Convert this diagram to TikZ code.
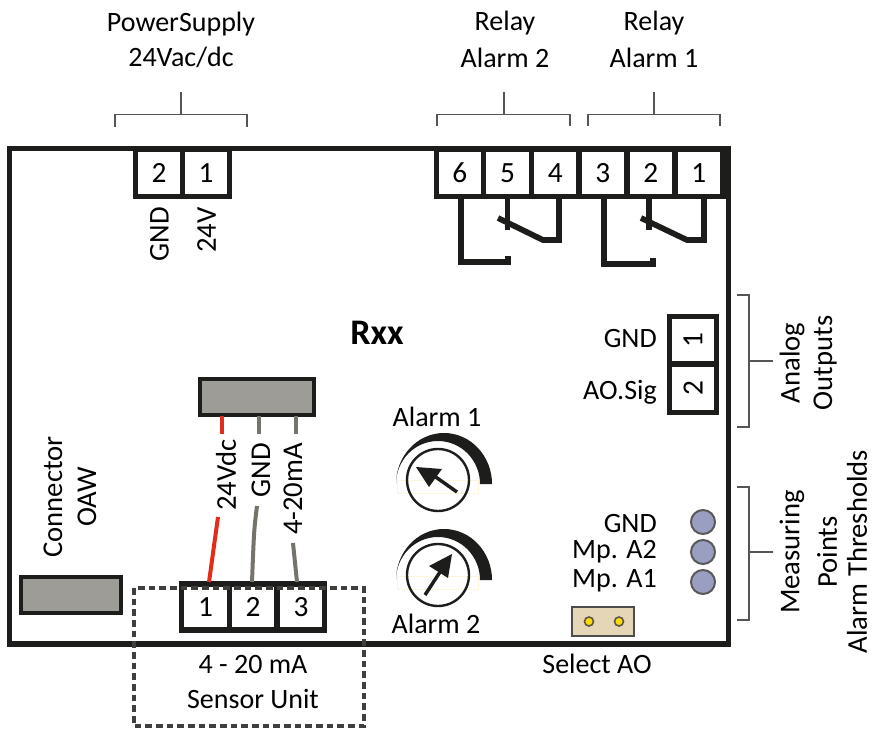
\documentclass[tikz,border=0pt]{standalone}
\usepackage{fontspec}
\setmainfont{Carlito}
\usetikzlibrary{arrows,calc,positioning}

\definecolor{boardcol}{HTML}{1D1D1B}
\definecolor{bracketcol}{HTML}{555555}
\definecolor{boxgrey}{HTML}{9D9C97}
\definecolor{wirered}{HTML}{E32D1C}
\definecolor{wiregrey}{HTML}{76736A}
\definecolor{mpfill}{HTML}{9A9FC2}
\definecolor{jumpertan}{HTML}{E5D6B8}
\definecolor{pinyellow}{HTML}{FFDC00}
\definecolor{faintcream}{HTML}{FBF6DC}

\tikzset{
  lbl/.style={font=\fontsize{21}{24}\selectfont, inner sep=0pt, text=black},
  lblup/.style={lbl, font=\fontsize{21.5}{24}\selectfont, rotate=90},
  termcell/.style={draw=boardcol, fill=white, line width=3.8pt, outer sep=0pt,
    inner sep=0pt, minimum width=35.6pt, minimum height=35.6pt,
    font=\fontsize{22}{24}\selectfont},
  bracketline/.style={draw=bracketcol, line width=1.3pt},
  relayline/.style={draw=boardcol, line width=4.3pt},
  greybox/.style={draw=boardcol, fill=boxgrey, line width=2.6pt},
  wire/.style={line width=3pt},
  mppoint/.style={circle, draw=black!65, fill=mpfill, line width=1.5pt,
    inner sep=0pt, minimum size=18pt}
}

\begin{document}
\begin{tikzpicture}[x=0.75pt,y=-0.75pt]

  \useasboundingbox (0,0) rectangle (874,728);

  % board
  \draw[boardcol, line width=3.9pt] (9.5,148.5) rectangle (728.5,644);

  % top labels and brackets
  \node[lbl] (psu) at (181,24) {PowerSupply};
  \node[lbl] (psuv) at (181,57) {24Vac/dc};
  \node[lbl] (relb) at (505,23) {Relay};
  \node[lbl] (relbn) at (505,58) {Alarm 2};
  \node[lbl] (rela) at (654,23) {Relay};
  \node[lbl] (relan) at (654,58) {Alarm 1};

  \draw[bracketline] (115,127) -- (115,114.5) -- (247,114.5) -- (247,127);
  \draw[bracketline] (181,92) -- (181,114.5);
  \draw[bracketline] (437,126) -- (437,114.5) -- (570,114.5) -- (570,126);
  \draw[bracketline] (504,92) -- (504,114.5);
  \draw[bracketline] (588,126) -- (588,114.5) -- (720,114.5) -- (720,126);
  \draw[bracketline] (654,92) -- (654,114.5);

  % supply terminals
  \node[termcell] (pwr2) at (159,173) {2};
  \node[termcell] (pwr1) at (206,173) {1};
  \node[lblup, anchor=east] (pwrgnd) at (159.5,207) {GND};
  \node[lblup, anchor=east] (pwrv) at (206.5,207) {24V};

  % relay terminals
  \node[termcell] (rly6) at (459.8,173) {6};
  \node[termcell] (rly5) at (507.5,173) {5};
  \node[termcell] (rly4) at (555.2,173) {4};
  \node[termcell] (rly3) at (602.9,173) {3};
  \node[termcell] (rly2) at (650.8,173) {2};
  \node[termcell] (rly1) at (698.9,173) {1};
  \fill[boardcol] (722,146) rectangle (730.5,198.5);

  % relay contacts
  \coordinate (ca) at (508,262);
  \coordinate (cb) at (498,218);
  \coordinate (cc) at (543,240);
  \coordinate (cd) at (559,240);
  \draw[relayline] ($(rly6.south)+(1,0)$) |- (ca) -- ++(0,-6);
  \draw[relayline] (rly5.south) -- ++(0,33);
  \draw[relayline] (cb) -- (cc) -- (cd) -- (cd |- rly4.south);

  \coordinate (ce) at (653,264);
  \coordinate (cf) at (641,218);
  \coordinate (cg) at (687,240);
  \coordinate (ch) at (704,240);
  \draw[relayline] ($(rly3.south)+(1,0)$) |- (ce) -- ++(0,-6);
  \draw[relayline] ($(rly2.south)+(-1.5,0)$) -- ++(0,33);
  \draw[relayline] (cf) -- (cg) -- (ch) -- (ch |- rly1.south);

  \node[lbl, font=\fontsize{27}{30}\selectfont\bfseries] (rxx) at (377,333) {Rxx};

  % analog outputs
  \node[termcell, rotate=90] (ao1) at (693,340) {1};
  \node[termcell, rotate=90] (ao2) at (693,388.5) {2};
  \node[lbl, anchor=east] (aognd) at (657,339) {GND};
  \node[lbl, anchor=east] (aosig) at (657,392) {AO.Sig};

  \draw[bracketline] (737,295) -- (749,295) -- (749,427) -- (737,427);
  \draw[bracketline] (749,361) -- (773,361);
  \node[lblup] (anaa) at (792,363) {Analog};
  \node[lblup] (anab) at (825,363) {Outputs};

  % measuring points
  \node[mppoint] (mpg) at (703,522) {};
  \node[mppoint] (mpb) at (703,552) {};
  \node[mppoint] (mpa) at (703,582) {};
  \node[lbl, anchor=east] (mpglbl) at (657,524) {GND};
  \node[lbl, anchor=east] (mpblbl) at (657,552) {Mp. A2};
  \node[lbl, anchor=east] (mpalbl) at (657,581) {Mp. A1};

  \draw[bracketline] (737,487) -- (749,487) -- (749,620) -- (737,620);
  \draw[bracketline] (749,552) -- (773,552);
  \node[lblup] (mea) at (792,552) {Measuring};
  \node[lblup] (meb) at (827,552) {Points};
  \node[lblup] (mec) at (857,551.5) {Alarm Thresholds};

  % jumper
  \draw[draw=black!70, fill=jumpertan, line width=1.3pt] (572,607) rectangle (634,636);
  \fill[pinyellow, draw=black!60!jumpertan, line width=1.2pt] (589,621.5) circle (4.5);
  \fill[pinyellow, draw=black!60!jumpertan, line width=1.2pt] (619,621.5) circle (4.5);
  \node[lbl] (selao) at (597,664) {Select AO};

  % alarm dials
  \foreach \dy in {0,96} {
    \draw[faintcream, line width=0.5pt] (397,480+\dy) rectangle (478,493+\dy);
    \fill[boardcol] (396,484+\dy) arc[start angle=180,end angle=360,x radius=48,y radius=51]
      -- (480,484+\dy) arc[start angle=360,end angle=180,x radius=42,y radius=43] -- cycle;
  }
  \draw[boardcol, line width=1.8pt] (438,480) circle (31);
  \draw[boardcol, line width=1.8pt] (438,575) circle (31);

  \draw[boardcol, line width=2.6pt] (457,492) -- (430,473);
  \fill[boardcol] (416,467) -- (442,469) -- (429,487) -- cycle;
  \draw[boardcol, line width=2.6pt] (425,595) -- (440,572);
  \fill[boardcol] (452,554) -- (429,566) -- (448,578) -- cycle;

  \node[lbl] (alma) at (437,417) {Alarm 1};
  \node[lbl] (almb) at (436,624) {Alarm 2};

  % connector OAW
  \node[lblup] (oawa) at (53,497) {Connector};
  \node[lblup] (oawb) at (87,497) {OAW};
  \draw[greybox] (21,577) rectangle (121,613);

  % sensor plug and wires
  \draw[greybox] (200,379) rectangle (314,415);
  \node[termcell, minimum height=34.5pt] (ts1) at (205.5,607) {1};
  \node[termcell, minimum height=34.5pt] (ts2) at (253,607) {2};
  \node[termcell, minimum height=34.5pt] (ts3) at (301,607) {3};

  \node[lblup] (w24) at (226,475) {24Vdc};
  \node[lblup] (wgnd) at (261,470) {GND};
  \node[lblup] (w420) at (293,489) {4-20mA};

  \coordinate (sa) at (222,416);
  \coordinate (sb) at (259,416);
  \coordinate (sc) at (296,416);
  \coordinate (wa) at (222,434);
  \coordinate (wb) at (259,434);
  \coordinate (wc) at (296,434);
  \coordinate (wd) at (218,517);
  \coordinate (we) at (257,506);
  \coordinate (wf) at (293,543);
  \coordinate (ta) at (209,582);
  \coordinate (tb) at (252,582);
  \coordinate (tc) at (297,582);
  \draw[wire, wirered] (sa) -- (wa);
  \draw[wire, wirered] (wd) -- (ta);
  \draw[wire, wiregrey] (sb) -- (wb);
  \draw[wire, wiregrey] (we) .. controls (254,530) .. (tb);
  \draw[wire, wiregrey] (sc) -- (wc);
  \draw[wire, wiregrey] (wf) -- (tc);

  \draw[boardcol!85, line width=2.3pt, dash pattern=on 5pt off 3pt] (134,588) rectangle (364,726);
  \node[lbl] (sena) at (253,665) {4 - 20 mA};
  \node[lbl] (senb) at (253,699) {Sensor Unit};

\end{tikzpicture}
\end{document}
